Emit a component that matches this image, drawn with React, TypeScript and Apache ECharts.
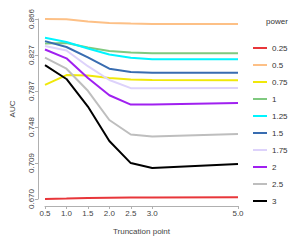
import React, { useEffect, useRef } from "react";
import * as echarts from "echarts";

const xValues = [0.5, 1.0, 1.5, 2.0, 2.5, 3.0, 5.0];
const xTicks = [0.5, 1.0, 1.5, 2.0, 2.5, 3.0, 5.0];
const yTicks = [0.6698, 0.709, 0.7482, 0.7874, 0.8266, 0.8658];

const powers = ["0.25", "0.5", "0.75", "1", "1.25", "1.5", "1.75", "2", "2.5", "3"];
const colors = ["#e8363a", "#fdc086", "#f0e80a", "#7fc97f", "#00f5ff", "#386cb0", "#ddd2fb", "#a020f0", "#bebebe", "#000000"];

const p025 = [0.6698, 0.6703, 0.6709, 0.6711, 0.6713, 0.6714, 0.6716];
const p05 = [0.8658, 0.8655, 0.8631, 0.8615, 0.8608, 0.8604, 0.8604];
const p075 = [0.794, 0.8047, 0.8042, 0.8015, 0.7999, 0.7994, 0.7991];
const p1 = [0.839, 0.8396, 0.8347, 0.831, 0.8294, 0.8286, 0.8286];
const p125 = [0.8454, 0.8408, 0.8337, 0.8272, 0.8237, 0.8219, 0.8219];
const p15 = [0.8417, 0.8353, 0.824, 0.8117, 0.808, 0.8074, 0.8072];
const p175 = [0.8363, 0.8315, 0.8144, 0.7994, 0.7905, 0.7905, 0.7908];
const p2 = [0.8326, 0.823, 0.8015, 0.7828, 0.7726, 0.7726, 0.7744];
const p25 = [0.8237, 0.8117, 0.7876, 0.7558, 0.74, 0.7378, 0.7405];
const p3 = [0.8155, 0.8005, 0.7705, 0.733, 0.7089, 0.7035, 0.7078];

const seriesValues = [p025, p05, p075, p1, p125, p15, p175, p2, p25, p3];

export default function App() {
  const ref = useRef<HTMLDivElement>(null);
  useEffect(() => {
    if (!ref.current) return;
    document.body.style.margin = "0";
    const chart = echarts.init(ref.current, null, { renderer: "svg" });
    const font = "Liberation Sans, Arial, sans-serif";
    chart.setOption({
      animation: false,
      textStyle: { fontFamily: font },
      title: {
        text: "power",
        left: 261,
        top: 12,
        textStyle: { fontSize: 8, fontWeight: "normal", color: "#333", fontFamily: font },
      },
      grid: { left: 38, right: 62, top: 19, bottom: 38 },
      legend: {
        orient: "vertical",
        left: 248,
        top: 38,
        icon: "rect",
        itemWidth: 14,
        itemHeight: 2,
        itemGap: 7,
        textStyle: { fontSize: 8, color: "#333", lineHeight: 10, fontFamily: font },
        data: powers,
      },
      xAxis: {
        type: "value",
        min: 0.5,
        max: 5.0,
        offset: 7,
        name: "Truncation point",
        nameLocation: "middle",
        nameGap: 21,
        nameTextStyle: { fontSize: 8, color: "#444", fontFamily: font },
        axisLine: { lineStyle: { color: "#b0b0b0", width: 1 } },
        axisTick: { length: 3, lineStyle: { color: "#b0b0b0" }, customValues: xTicks },
        axisLabel: {
          fontSize: 8,
          color: "#444",
          margin: 3,
          customValues: xTicks,
          formatter: (v: number) => v.toFixed(1),
        },
        splitLine: { show: false },
      },
      yAxis: {
        type: "value",
        min: yTicks[0],
        max: yTicks[yTicks.length - 1],
        offset: 7,
        name: "AUC",
        nameLocation: "middle",
        nameGap: 22,
        nameRotate: 90,
        nameTextStyle: { fontSize: 8, color: "#444", fontFamily: font },
        axisLine: { show: true, lineStyle: { color: "#b0b0b0", width: 1 } },
        axisTick: { show: true, length: 3, lineStyle: { color: "#b0b0b0" }, customValues: yTicks },
        axisLabel: {
          fontSize: 8,
          color: "#444",
          margin: 3,
          rotate: 90,
          customValues: yTicks,
          formatter: (v: number) => v.toFixed(3),
        },
        splitLine: { show: false },
      },
      series: powers.map((p, i) => ({
        name: p,
        type: "line",
        showSymbol: false,
        symbol: "none",
        clip: false,
        color: colors[i],
        lineStyle: { width: 2, color: colors[i] },
        data: xValues.map((x, j) => [x, seriesValues[i][j]]),
      })),
    });
    return () => chart.dispose();
  }, []);
  return <div ref={ref} style={{ width: 300, height: 240 }} />;
}
